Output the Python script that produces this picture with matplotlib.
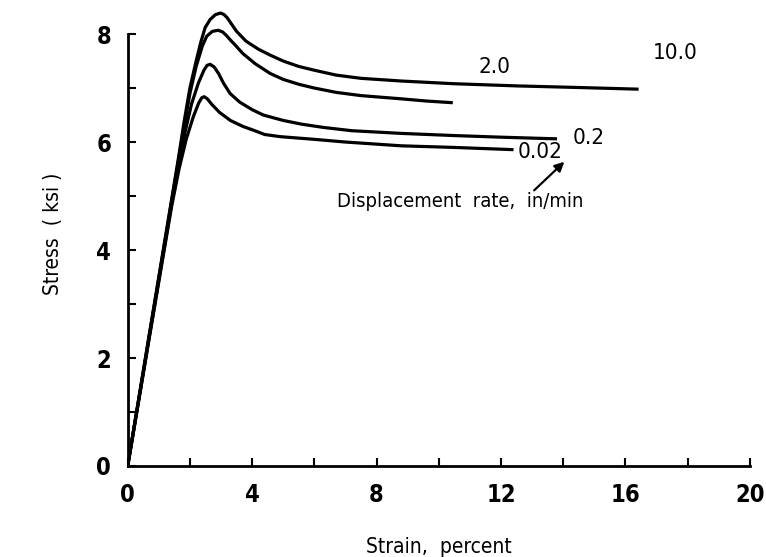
import matplotlib
matplotlib.use("Agg")
import matplotlib.pyplot as plt
from matplotlib.ticker import MultipleLocator

# stress-strain curves at four displacement rates (in/min)
strain_10 = [0, 0.7, 1.41, 1.63, 1.82, 2.0, 2.2, 2.35, 2.49, 2.65, 2.82, 2.99, 3.1, 3.2, 3.32,
             3.5, 3.8, 4.2, 4.58, 5.0, 5.5, 6.0, 6.7, 7.5, 8.8, 10.5, 12.5, 14.5, 16.37]
stress_10 = [0, 2.45, 4.93, 5.7, 6.4, 7.0, 7.5, 7.85, 8.12, 8.27, 8.36, 8.39, 8.36, 8.3, 8.2,
             8.05, 7.87, 7.72, 7.61, 7.5, 7.4, 7.33, 7.24, 7.18, 7.13, 7.08, 7.04, 7.01, 6.98]

strain_2 = [0, 0.7, 1.41, 1.63, 1.82, 2.0, 2.2, 2.4, 2.54, 2.72, 2.91, 3.05, 3.18, 3.3, 3.45,
            3.7, 4.1, 4.58, 5.0, 5.5, 6.0, 6.7, 7.5, 8.8, 9.6, 10.4]
stress_2 = [0, 2.45, 4.9, 5.65, 6.3, 6.9, 7.4, 7.78, 7.96, 8.05, 8.07, 8.04, 7.97, 7.89, 7.8,
            7.64, 7.45, 7.27, 7.16, 7.07, 7.0, 6.92, 6.86, 6.8, 6.76, 6.73]

strain_02 = [0, 0.7, 1.41, 1.65, 1.85, 2.05, 2.27, 2.45, 2.55, 2.65, 2.78, 2.92, 3.08, 3.29,
             3.6, 4.0, 4.36, 5.0, 5.6, 6.3, 7.2, 8.8, 10.5, 12.0, 13.75]
stress_02 = [0, 2.4, 4.85, 5.6, 6.2, 6.7, 7.09, 7.33, 7.42, 7.44, 7.39, 7.27, 7.09, 6.9,
             6.74, 6.6, 6.5, 6.4, 6.33, 6.27, 6.21, 6.16, 6.12, 6.09, 6.06]

strain_002 = [0, 0.7, 1.41, 1.65, 1.88, 2.11, 2.28, 2.38, 2.46, 2.56, 2.7, 2.95, 3.3, 3.7,
              4.04, 4.4, 4.9, 6.0, 7.0, 8.8, 10.5, 12.35]
stress_002 = [0, 2.4, 4.8, 5.5, 6.05, 6.47, 6.72, 6.82, 6.84, 6.8, 6.7, 6.55, 6.4, 6.29,
              6.22, 6.14, 6.1, 6.05, 6.0, 5.93, 5.9, 5.86]

rate_labels = ["10.0", "2.0", "0.2", "0.02"]
label_pos = [(17.6, 7.65), (11.8, 7.39), (14.8, 6.07), (13.25, 5.81)]

plt.rcParams["font.family"] = ["DejaVu Sans"]
plt.rcParams["font.stretch"] = "condensed"

fig = plt.figure(figsize=(7.66, 5.57), dpi=100)
ax = fig.add_axes([0.1667, 0.1634, 0.979 - 0.1667, 0.997 - 0.1634])

for x, y in [(strain_10, stress_10), (strain_2, stress_2),
             (strain_02, stress_02), (strain_002, stress_002)]:
    ax.plot(x, y, color="black", linewidth=2.3, solid_joinstyle="round")

for text, (tx, ty) in zip(rate_labels, label_pos):
    ax.text(tx, ty, text, ha="center", va="center", fontsize=16,
            fontstretch="condensed")

ax.text(10.7, 4.89, "Displacement  rate,  in/min", ha="center", va="center",
        fontsize=14.5, fontstretch="condensed")
ax.annotate("", xy=(14.1, 5.67), xytext=(13.0, 5.07),
            arrowprops=dict(arrowstyle="-|>", color="black", lw=1.6,
                            mutation_scale=14))

ax.set_xlim(0, 20)
ax.set_ylim(0, 8.6)
ax.spines["top"].set_visible(False)
ax.spines["right"].set_visible(False)
ax.spines["left"].set_bounds(0, 8)
ax.spines["left"].set_linewidth(2)
ax.spines["bottom"].set_linewidth(2)

ax.xaxis.set_major_locator(MultipleLocator(4))
ax.xaxis.set_minor_locator(MultipleLocator(2))
ax.yaxis.set_minor_locator(MultipleLocator(1))
ax.set_yticks([0, 2, 4, 6, 8])
ax.tick_params(which="both", direction="in", length=6, width=1.5)
ax.tick_params(axis="both", labelsize=17, pad=12)
for lab in ax.get_xticklabels() + ax.get_yticklabels():
    lab.set_fontweight("bold")
    lab.set_fontstretch("condensed")

ax.set_xlabel("Strain,  percent", fontsize=15, labelpad=22)
ax.set_ylabel("Stress  ( ksi )", fontsize=15, labelpad=24)

fig.savefig("out.png", dpi=100)
